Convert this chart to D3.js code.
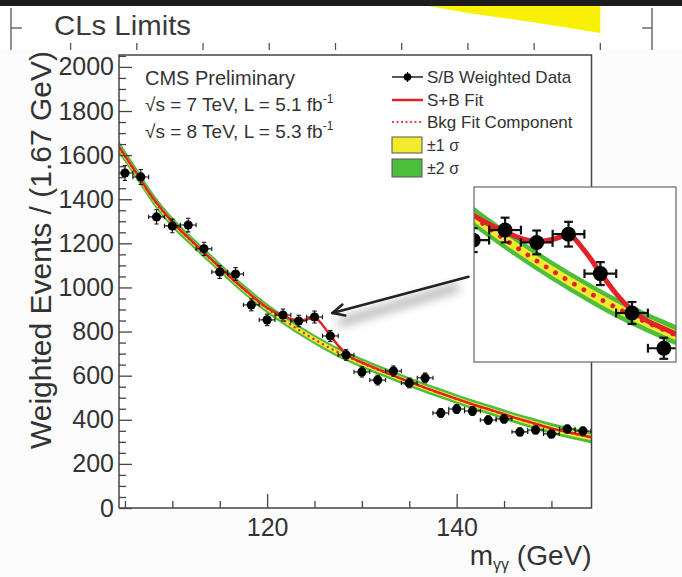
<!DOCTYPE html>
<html>
<head>
<meta charset="utf-8">
<script src="https://cdn.jsdelivr.net/npm/d3@7"></script>
<style>
  body { margin: 0; background: #fff; }
  svg { display: block; }
  text { font-family: "Liberation Sans", Arial, Helvetica, sans-serif; }
</style>
</head>
<body>
<svg id="chart" width="682" height="577"></svg>
<script>
// ---- diphoton mass spectrum, S/B weighted (bins of 1.67 GeV) ----
const binMass = [105.00, 106.67, 108.33, 110.00, 111.67, 113.33, 115.00, 116.67, 118.33, 120.00,
                 121.67, 123.33, 125.00, 126.67, 128.33, 130.00, 131.67, 133.33, 135.00, 136.67,
                 138.33, 140.00, 141.67, 143.33, 145.00, 146.67, 148.33, 150.00, 151.67, 153.33];
const weightedEvents = [1519, 1501, 1320, 1279, 1283, 1175, 1070, 1061, 921, 853,
                        875, 848, 866, 780, 694, 617, 580, 621, 567, 590,
                        431, 449, 440, 399, 404, 345, 354, 336, 358, 349];
const eventErr = [34, 34, 32, 31, 31, 30, 29, 29, 27, 26,
                  27, 26, 27, 25, 24, 23, 22, 23, 22, 22,
                  20, 20, 20, 19, 19, 18, 18, 18, 18, 18];
const binHalfWidth = 0.833;

// background fit component with its ±1σ / ±2σ bands
const fitMass = [104.37, 106, 108, 110, 112, 114, 116, 118, 120, 122, 124, 126, 128,
                 130, 132, 134, 136, 138, 140, 142, 144, 146, 148, 150, 152, 154.23];
const bkgFit = [1635, 1530, 1400, 1295, 1210, 1130, 1050, 975, 905, 845, 790, 740, 695,
                657, 622, 588, 555, 524, 494, 465, 438, 410, 385, 360, 340, 320];
const band1 = [14, 13, 12, 12, 11, 11, 11, 11, 11, 11, 11, 11, 11,
               11, 11, 11, 11, 11, 11, 11, 11, 12, 12, 12, 13, 13];
const band2 = [28, 26, 25, 24, 23, 23, 22, 22, 22, 22, 22, 22, 22,
               22, 22, 22, 22, 22, 22, 22, 23, 23, 24, 25, 26, 27];

// signal + background fit
const sbMass = [104.37, 106, 108, 110, 112, 114, 116, 118, 120, 121, 121.67, 122.5, 123.33, 124.2,
                125, 125.8, 126.67, 127.5, 128.33, 129, 130, 132, 134, 136, 138, 140, 142,
                144, 146, 148, 150, 152, 154.23];
const sbFit = [1638, 1532, 1402, 1297, 1212, 1132, 1052, 977, 908, 884, 872, 857, 850, 855,
               864, 832, 782, 736, 700, 680, 660, 624, 589, 556, 525, 495, 466,
               439, 411, 386, 361, 341, 321];

// axis ticks
const xMajorTicks = [120, 140];
const xMinorTicks = [105, 110, 115, 125, 130, 135, 145, 150];
const yMajorTicks = [0, 200, 400, 600, 800, 1000, 1200, 1400, 1600, 1800, 2000];
const yMinorTicks = d3.range(0, 2051, 50).filter(v => v % 200 !== 0);

// pointer from the excess to the magnified view: [mass, events]
const arrowTail = [141.25, 1048];
const arrowHead = [126.9, 884];

// fragment of the CLs limits panel above
const clsTickIdx = [1, 2, 3, 4, 5, 6, 7, 8, 9];
const clsBandIdx = [6.4, 7.0, 7.7, 8.35, 9.0];
const clsBandLow = [8.8, 7.4, 6.1, 4.8, 3.4];

const legendItems = ["S/B Weighted Data", "S+B Fit", "Bkg Fit Component", "\u00b11 \u03c3", "\u00b12 \u03c3"];

const GREEN = "#4dbd3c", YELLOW = "#f2ea2c", RED = "#e0232a", INK = "#333";

const svg = d3.select("#chart");
const defs = svg.append("defs");

// ---------- top strip: CLs limits panel ----------
svg.append("rect").attr("width", 682).attr("height", 577).attr("fill", "#fff");
const clsX = d3.scaleLinear().domain([0.1, 9.78]).range([11, 652]);
const clsY = d3.scaleLinear().domain([0, 10]).range([50, 0]);
svg.append("path")
  .datum(clsBandIdx)
  .attr("d", d3.area().x(d => clsX(d)).y0((d, i) => clsY(clsBandLow[i])).y1(clsY(10)))
  .attr("fill", "#f7f205");
svg.append("rect").attr("x", 0).attr("y", 0).attr("width", 682).attr("height", 6).attr("fill", "#1d1d1d");
const clsAx = svg.append("g").attr("stroke", "#555").attr("stroke-width", 1.3);
clsAx.append("line").attr("x1", clsX(0.1)).attr("x2", clsX(0.1)).attr("y1", 8).attr("y2", 50);
clsAx.append("line").attr("x1", clsX(0.1)).attr("x2", clsX(0.1) + 11).attr("y1", clsY(4.4)).attr("y2", clsY(4.4));
clsAx.append("line").attr("x1", clsX(9.78)).attr("x2", clsX(9.78)).attr("y1", 8).attr("y2", 50);
clsAx.append("line").attr("x1", clsX(9.78)).attr("x2", clsX(9.78) - 10).attr("y1", clsY(4.4)).attr("y2", clsY(4.4));
clsAx.selectAll(".ct").data(clsTickIdx).join("line")
  .attr("x1", d => clsX(d)).attr("x2", d => clsX(d)).attr("y1", 43).attr("y2", 50);
svg.append("text").attr("x", 54).attr("y", 35).attr("font-size", 28)
  .attr("textLength", 137).attr("lengthAdjust", "spacingAndGlyphs")
  .attr("fill", "#3a3a3a").text("CLs Limits");

// ---------- lower panel ----------
svg.append("rect").attr("x", 0).attr("y", 50).attr("width", 682).attr("height", 527).attr("fill", "#fcfcfc");

const plot = { left: 119, right: 591.5, top: 55, bottom: 508 };
const x = d3.scaleLinear().domain([104.37, 154.23]).range([plot.left, plot.right]);
const y = d3.scaleLinear().domain([0, 2054]).range([plot.bottom, plot.top]);

defs.append("clipPath").attr("id", "clipMain").append("rect")
  .attr("x", plot.left).attr("y", plot.top)
  .attr("width", plot.right - plot.left).attr("height", plot.bottom - plot.top);

svg.append("rect").attr("x", plot.left).attr("y", plot.top)
  .attr("width", plot.right - plot.left).attr("height", plot.bottom - plot.top).attr("fill", "#fff");

function drawContent(g, xs, ys, k, r) {
  const bandArea = w => d3.area()
    .x((d, i) => xs(fitMass[i]))
    .y0((d, i) => ys(d - w[i]))
    .y1((d, i) => ys(d + w[i]))
    .curve(d3.curveMonotoneX);
  g.append("path").datum(bkgFit).attr("d", bandArea(band2)).attr("fill", GREEN);
  g.append("path").datum(bkgFit).attr("d", bandArea(band1)).attr("fill", YELLOW);
  g.append("path").datum(bkgFit)
    .attr("d", d3.line().x((d, i) => xs(fitMass[i])).y(d => ys(d)).curve(d3.curveMonotoneX))
    .attr("fill", "none").attr("stroke", RED).attr("stroke-width", 2.4 * k)
    .attr("stroke-linecap", "round").attr("stroke-dasharray", `0.01 ${5.5 * k}`);
  g.append("path").datum(sbFit)
    .attr("d", d3.line().x((d, i) => xs(sbMass[i])).y(d => ys(d)).curve(d3.curveMonotoneX))
    .attr("fill", "none").attr("stroke", RED).attr("stroke-width", 2.5 * k);

  const pts = g.append("g").attr("stroke", "#111").attr("stroke-width", 1.1 * k);
  const cap = 2.2 * k;
  binMass.forEach((m, i) => {
    const cx = xs(m), cy = ys(weightedEvents[i]);
    const xl = xs(m - binHalfWidth), xr = xs(m + binHalfWidth);
    const yt = ys(weightedEvents[i] + eventErr[i]), yb = ys(weightedEvents[i] - eventErr[i]);
    pts.append("line").attr("x1", xl).attr("x2", xr).attr("y1", cy).attr("y2", cy);
    pts.append("line").attr("x1", cx).attr("x2", cx).attr("y1", yt).attr("y2", yb);
    pts.append("line").attr("x1", xl).attr("x2", xl).attr("y1", cy - cap).attr("y2", cy + cap);
    pts.append("line").attr("x1", xr).attr("x2", xr).attr("y1", cy - cap).attr("y2", cy + cap);
    pts.append("line").attr("x1", cx - cap).attr("x2", cx + cap).attr("y1", yt).attr("y2", yt);
    pts.append("line").attr("x1", cx - cap).attr("x2", cx + cap).attr("y1", yb).attr("y2", yb);
  });
  g.append("g").selectAll("circle").data(weightedEvents).join("circle")
    .attr("cx", (d, i) => xs(binMass[i])).attr("cy", d => ys(d))
    .attr("r", r).attr("fill", "#000");
}

drawContent(svg.append("g").attr("clip-path", "url(#clipMain)"), x, y, 1, 4.6);

// frame
const frame = svg.append("g").attr("stroke", "#444").attr("stroke-width", 1.5).attr("fill", "none");
frame.append("path").attr("d",
  `M${plot.left},${plot.bottom}V${plot.top}H${plot.right}V${plot.bottom}H${plot.left}`);

// axes
const tickStyle = g => {
  g.select(".domain").remove();
  g.selectAll(".tick line").attr("stroke", "#444").attr("stroke-width", 1.3);
  g.selectAll(".tick text").attr("fill", INK).attr("font-size", 25)
    .attr("font-family", "Liberation Sans, Arial, sans-serif");
};
svg.append("g").attr("transform", `translate(${plot.left},0)`)
  .call(d3.axisLeft(y).tickValues(yMajorTicks).tickSize(-13).tickPadding(5).tickFormat(d3.format("d")))
  .call(tickStyle);
svg.append("g").attr("transform", `translate(${plot.left},0)`)
  .call(d3.axisLeft(y).tickValues(yMinorTicks).tickSize(-7).tickFormat(""))
  .call(tickStyle);
svg.append("g").attr("transform", `translate(0,${plot.bottom})`)
  .call(d3.axisBottom(x).tickValues(xMajorTicks).tickSize(-14).tickPadding(10).tickFormat(d3.format("d")))
  .call(tickStyle);
svg.append("g").attr("transform", `translate(0,${plot.bottom})`)
  .call(d3.axisBottom(x).tickValues(xMinorTicks).tickSize(-7).tickFormat(""))
  .call(tickStyle);

// axis titles
svg.append("text").attr("transform", "translate(51,449) rotate(-90)")
  .attr("font-size", 30).attr("fill", INK).text("Weighted Events / (1.67 GeV)");
const xt = svg.append("text").attr("x", plot.right).attr("y", 565)
  .attr("text-anchor", "end").attr("font-size", 28).attr("fill", INK);
xt.append("tspan").text("m");
xt.append("tspan").attr("font-size", 16).attr("dy", 5).text("\u03b3\u03b3");
xt.append("tspan").attr("dy", -5).text(" (GeV)");

// header text
svg.append("text").attr("x", 145).attr("y", 85).attr("font-size", 20).attr("fill", INK).text("CMS Preliminary");
[["7", "5.1"], ["8", "5.3"]].forEach((p, i) => {
  const t = svg.append("text").attr("x", 145).attr("y", 111 + i * 27).attr("font-size", 19).attr("fill", INK);
  t.append("tspan").text(`\u221As = ${p[0]} TeV, L = ${p[1]} fb`);
  t.append("tspan").attr("font-size", 12).attr("dy", -8).text("-1");
});

// legend
const lg = svg.append("g");
const ly = [77, 100, 122, 145, 168];
lg.append("line").attr("x1", 392).attr("x2", 423).attr("y1", ly[0]).attr("y2", ly[0]).attr("stroke", "#111").attr("stroke-width", 1.4);
lg.append("line").attr("x1", 407.5).attr("x2", 407.5).attr("y1", ly[0] - 5).attr("y2", ly[0] + 5).attr("stroke", "#111").attr("stroke-width", 1.2);
lg.append("circle").attr("cx", 407.5).attr("cy", ly[0]).attr("r", 3.8).attr("fill", "#000");
lg.append("line").attr("x1", 392).attr("x2", 423).attr("y1", ly[1]).attr("y2", ly[1]).attr("stroke", RED).attr("stroke-width", 2.5);
lg.append("line").attr("x1", 393).attr("x2", 423).attr("y1", ly[2]).attr("y2", ly[2]).attr("stroke", RED)
  .attr("stroke-width", 2.2).attr("stroke-linecap", "round").attr("stroke-dasharray", "0.01 4.5");
lg.append("rect").attr("x", 392).attr("y", ly[3] - 8).attr("width", 30).attr("height", 16)
  .attr("fill", YELLOW).attr("stroke", "#555").attr("stroke-width", 1);
lg.append("rect").attr("x", 392).attr("y", ly[4] - 9).attr("width", 30).attr("height", 18)
  .attr("fill", GREEN).attr("stroke", "#555").attr("stroke-width", 1);
lg.selectAll("text").data(legendItems).join("text")
  .attr("x", 427).attr("y", (d, i) => ly[i] + 6)
  .attr("font-size", (d, i) => i < 3 ? 17 : 16).attr("fill", INK).text(d => d);

// arrow with soft shadow
const blur = defs.append("filter").attr("id", "soft").attr("x", "-50%").attr("y", "-200%").attr("width", "200%").attr("height", "500%");
blur.append("feGaussianBlur").attr("stdDeviation", 5);
const [tx, ty] = [x(arrowTail[0]), y(arrowTail[1])];
const [hx, hy] = [x(arrowHead[0]), y(arrowHead[1])];
svg.append("line").attr("x1", tx - 10).attr("y1", ty + 10).attr("x2", hx + 6).attr("y2", hy + 10)
  .attr("stroke", "#000").attr("stroke-opacity", 0.28).attr("stroke-width", 9).attr("filter", "url(#soft)");
const ang = Math.atan2(ty - hy, tx - hx);
const arrow = svg.append("g").attr("stroke", "#222").attr("stroke-width", 2.6).attr("stroke-linecap", "round").attr("fill", "none");
arrow.append("line").attr("x1", tx).attr("y1", ty).attr("x2", hx).attr("y2", hy);
[-0.45, 0.45].forEach(a => {
  arrow.append("line").attr("x1", hx).attr("y1", hy)
    .attr("x2", hx + 13 * Math.cos(ang + a)).attr("y2", hy + 13 * Math.sin(ang + a));
});

// magnified view of the excess region
const inset = { left: 474, right: 676, top: 187, bottom: 362 };
const xi = d3.scaleLinear().domain([120.04, 130.64]).range([inset.left, inset.right]);
const yi = d3.scaleLinear().domain([587, 969]).range([inset.bottom, inset.top]);
defs.append("clipPath").attr("id", "clipInset").append("rect")
  .attr("x", inset.left).attr("y", inset.top)
  .attr("width", inset.right - inset.left).attr("height", inset.bottom - inset.top);
svg.append("rect").attr("x", inset.left).attr("y", inset.top)
  .attr("width", inset.right - inset.left).attr("height", inset.bottom - inset.top).attr("fill", "#fff");
drawContent(svg.append("g").attr("clip-path", "url(#clipInset)"), xi, yi, 2, 7.5);
svg.append("rect").attr("x", inset.left).attr("y", inset.top)
  .attr("width", inset.right - inset.left).attr("height", inset.bottom - inset.top)
  .attr("fill", "none").attr("stroke", "#666").attr("stroke-width", 1.2);
</script>
</body>
</html>
